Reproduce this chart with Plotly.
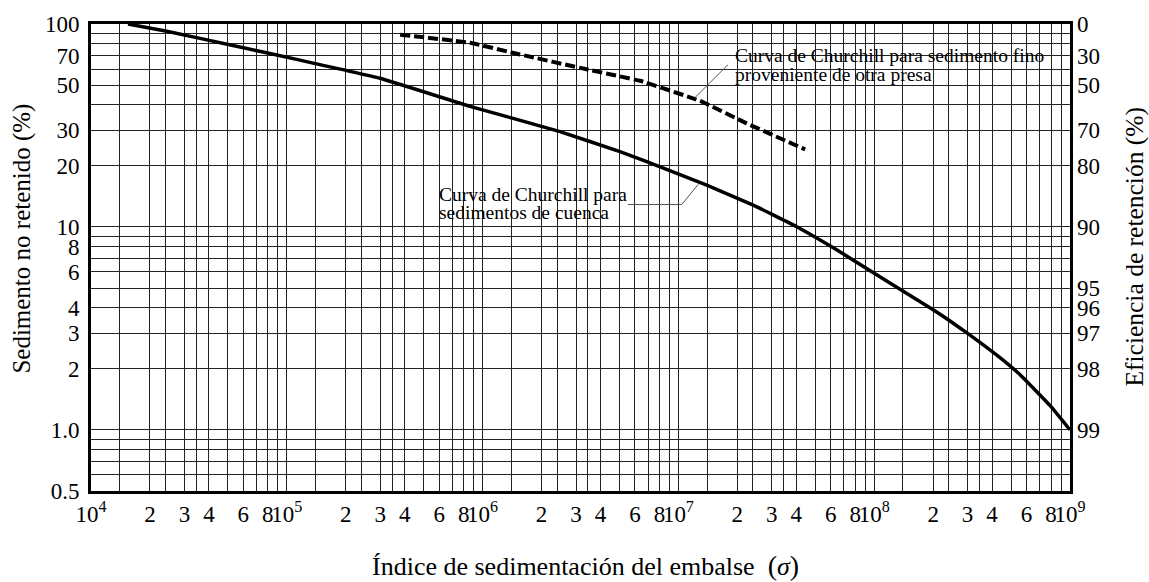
import numpy as np
import plotly.graph_objects as go

# Churchill curve for catchment sediment (sedimentation index vs. % not retained)
sigma_cuenca = [1.545e4, 2.44e4, 5.31e4, 1.168e5, 2.99e5, 8.62e5, 2.485e6, 5.03e6, 6.89e6,
                1.395e7, 2.41e7, 4.02e7, 6.43e7, 1.0e8, 1.355e8, 2.0e8, 2.44e8, 3.0e8,
                4.39e8, 5.56e8, 7.9e8, 1.0e9]
no_retenido_cuenca = [100, 92.1, 78.3, 66.4, 54.0, 39.3, 29.5, 23.5, 21.0,
                      16.06, 12.81, 10.03, 7.72, 5.91, 4.93, 3.91, 3.44, 2.99,
                      2.27, 1.87, 1.32, 1.0]

# Churchill curve for fine sediment coming from an upstream dam
sigma_fino = [3.79e5, 8.63e5, 1.55e6, 3.4e6, 6.37e6, 1.29e7, 2.23e7, 4.44e7]
no_retenido_fino = [88.6, 80.8, 70.8, 59.8, 52.5, 41.8, 32.4, 24.1]

# x axis: decades and the multipliers that carry labels / grid lines
x_decade_exponents = [4, 5, 6, 7, 8, 9]
x_label_mults = [2, 3, 4, 6, 8]
x_grid_mults = [1.4, 2, 2.4, 3, 3.45, 4, 5, 6, 7, 8, 9]

# left y axis (% not retained)
y_grid_vals = [0.5, 0.6, 0.7, 0.8, 0.9, 1, 2, 3, 4, 5, 6, 7, 8, 9,
               10, 20, 30, 40, 50, 60, 70, 80, 90, 100]
y_left_labels = {100: "100", 70: "70", 50: "50", 30: "30", 20: "20", 10: "10",
                 8: "8", 6: "6", 4: "4", 3: "3", 2: "2", 1: "1.0", 0.5: "0.5"}

# right y axis (retention efficiency %)
y_right_vals = [100, 70, 50, 30, 20, 10, 5, 4, 3, 2, 1]
y_right_text = ["0", "30", "50", "70", "80", "90", "95", "96", "97", "98", "99"]

FONT = "Liberation Serif, Times New Roman, serif"

x_tickvals, x_ticktext = [], []
for e in x_decade_exponents:
    x_tickvals.append(10.0 ** e)
    x_ticktext.append(f"10<sup>{e}</sup>")
    if e == x_decade_exponents[-1]:
        break
    for m in x_grid_mults:
        x_tickvals.append(m * 10.0 ** e)
        x_ticktext.append(str(m) if m in x_label_mults else "")

y_ticktext = [y_left_labels.get(v, "") for v in y_grid_vals]

fig = go.Figure()
fig.add_trace(go.Scatter(
    x=sigma_cuenca, y=no_retenido_cuenca, mode="lines",
    line=dict(color="black", width=3.5, shape="spline", smoothing=0.3),
    hoverinfo="skip", showlegend=False))
fig.add_trace(go.Scatter(
    x=sigma_fino, y=no_retenido_fino, mode="lines",
    line=dict(color="black", width=4, dash="10px,4px", shape="spline", smoothing=0.3),
    hoverinfo="skip", showlegend=False))
# carrier trace for the secondary (right) axis
fig.add_trace(go.Scatter(
    x=sigma_cuenca, y=no_retenido_cuenca, yaxis="y2", mode="lines",
    line=dict(width=0), opacity=0, hoverinfo="skip", showlegend=False))

L, R, T, B = 91, 79, 21, 91
W, H = 1149, 582
pw, ph = W - L - R, H - T - B


def px(x):
    return (x - L) / pw


def py(y):
    return (H - B - y) / ph


shapes = [
    # white label boxes (above grid, below curves)
    dict(type="rect", xref="paper", yref="paper", x0=px(710), x1=px(1057),
         y0=py(82), y1=py(42), fillcolor="white", line=dict(width=0), layer="between"),
    dict(type="rect", xref="paper", yref="paper", x0=px(426), x1=px(702),
         y0=py(223), y1=py(175), fillcolor="white", line=dict(width=0), layer="between"),
    # leader lines
    dict(type="line", xref="paper", yref="paper", x0=px(728), y0=py(62),
         x1=px(695), y1=py(95), line=dict(color="#555", width=1)),
    dict(type="path", xref="paper", yref="paper",
         path=f"M {px(628)} {py(202.7)} L {px(681.7)} {py(202.7)} L {px(698.3)} {py(182.3)}",
         line=dict(color="#555", width=1)),
]


def label(text, x, y, size=19.5):
    return dict(text=text, xref="paper", yref="paper", x=px(x), y=py(y),
                xanchor="left", yanchor="middle", align="left", showarrow=False,
                font=dict(family=FONT, size=size, color="black"))


annotations = [
    label("Curva de Churchill para sedimento fino", 733, 53),
    label("proveniente de otra presa", 733, 72),
    label("Curva de Churchill para", 437, 193),
    label("sedimentos de cuenca", 437, 211),
    dict(text="Sedimento no retenido (%)", xref="paper", yref="paper",
         x=px(22), y=py(237), textangle=-90, xanchor="center", yanchor="middle",
         showarrow=False, font=dict(family=FONT, size=25, color="black")),
    dict(text="Eficiencia de retención (%)", xref="paper", yref="paper",
         x=px(1135), y=py(245), textangle=-90, xanchor="center", yanchor="middle",
         showarrow=False, font=dict(family=FONT, size=25.5, color="black")),
    dict(text="Índice de sedimentación del embalse  <span style='font-size:28px'>(</span><i>σ</i><span style='font-size:28px'>)</span>",
         xref="paper", yref="paper", x=px(585), y=py(566), xanchor="center", yanchor="middle",
         showarrow=False, font=dict(family=FONT, size=26, color="black")),
]

fig.update_layout(
    width=W, height=H,
    margin=dict(l=L, r=R, t=T, b=B, pad=0),
    paper_bgcolor="white", plot_bgcolor="white",
    font=dict(family=FONT, size=23, color="black"),
    xaxis=dict(type="log", range=[4, 9], tickmode="array", tickvals=x_tickvals,
               ticktext=x_ticktext, tickangle=0, ticks="", showgrid=True,
               gridcolor="#222", gridwidth=1, showline=True, linecolor="black",
               linewidth=3, mirror=True, zeroline=False, ticklabelstandoff=0,
               tickfont=dict(family=FONT, size=23, color="black")),
    yaxis=dict(type="log", range=[np.log10(0.5), 2], tickmode="array",
               tickvals=y_grid_vals, ticktext=y_ticktext, ticks="", showgrid=True,
               gridcolor="#222", gridwidth=1, showline=True, linecolor="black",
               linewidth=3, mirror=True, zeroline=False, ticklabelstandoff=4,
               tickfont=dict(family=FONT, size=23, color="black")),
    yaxis2=dict(type="log", range=[np.log10(0.5), 2], overlaying="y", side="right",
                tickmode="array", tickvals=y_right_vals, ticktext=y_right_text,
                ticks="", showgrid=False, showline=False, zeroline=False,
                ticklabelstandoff=6, tickfont=dict(family=FONT, size=23, color="black")),
    shapes=shapes, annotations=annotations,
)

fig.write_html("out.html")
